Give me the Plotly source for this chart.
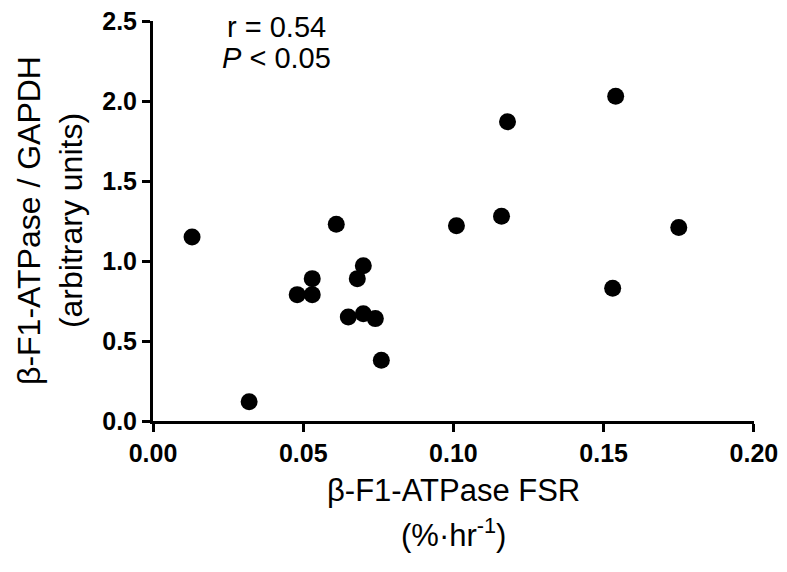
import plotly.graph_objects as go

fsr = [0.013, 0.032, 0.048, 0.053, 0.053, 0.061, 0.065, 0.068, 0.070, 0.070,
       0.074, 0.076, 0.101, 0.116, 0.118, 0.153, 0.154, 0.175]
ratio = [1.15, 0.12, 0.79, 0.89, 0.79, 1.23, 0.65, 0.89, 0.97, 0.67,
         0.64, 0.38, 1.22, 1.28, 1.87, 0.83, 2.03, 1.21]

x_ticks = [0.00, 0.05, 0.10, 0.15, 0.20]
y_ticks = [0.0, 0.5, 1.0, 1.5, 2.0, 2.5]

x_title_lines = ["β-F1-ATPase FSR", "(%·hr<sup>-1</sup>)"]
y_title = "β-F1-ATPase / GAPDH<br>(arbitrary units)"
stat_lines = ["r = 0.54", "<i>P</i> < 0.05"]

FONT = "Arial, Liberation Sans, Helvetica, sans-serif"

fig = go.Figure(go.Scatter(
    x=fsr, y=ratio, mode="markers",
    marker=dict(color="black", size=17, line=dict(width=0)),
    hoverinfo="x+y",
))

axis_common = dict(
    showline=True, linecolor="black", linewidth=3,
    ticks="outside", tickcolor="black", tickwidth=3, ticklen=8,
    showgrid=False, zeroline=False, automargin=False,
    ticklabeloverflow="allow",
    tickfont=dict(family=FONT, size=25, color="black", weight="bold"),
)

fig.update_xaxes(range=[0, x_ticks[-1] * 1.0002], tickvals=x_ticks,
                 ticktext=[f"{v:.2f}" for v in x_ticks], **axis_common)
fig.update_yaxes(range=[0, y_ticks[-1] * 1.0002], tickvals=y_ticks,
                 ticktext=[f"{v:.1f}" for v in y_ticks], **axis_common)

# x axis title (two lines)
for line, shift in zip(x_title_lines, [-69, -112]):
    fig.add_annotation(
        text=line, xref="paper", yref="paper", x=0.5, y=0,
        xanchor="center", yanchor="middle", yshift=shift, showarrow=False,
        font=dict(family=FONT, size=31, color="black"),
    )
# y axis title
fig.add_annotation(
    text=y_title, xref="paper", yref="paper", x=0, y=0.5,
    xanchor="center", yanchor="middle", xshift=-103, textangle=-90,
    showarrow=False, font=dict(family=FONT, size=32, color="black"),
    align="center",
)

# statistics text
for i, line in enumerate(stat_lines):
    fig.add_annotation(
        text=line, xref="x", yref="paper", x=0.041, y=1,
        xanchor="center", yanchor="middle", yshift=-6 - 31 * i,
        showarrow=False, font=dict(family=FONT, size=29, color="black"),
    )

# the page body adds an 8 px offset; size and margins compensate for it
fig.update_layout(
    width=779, height=564,
    margin=dict(l=145, r=33, t=13, b=151),
    plot_bgcolor="white", paper_bgcolor="white",
    showlegend=False,
)

fig.write_html("out.html")
